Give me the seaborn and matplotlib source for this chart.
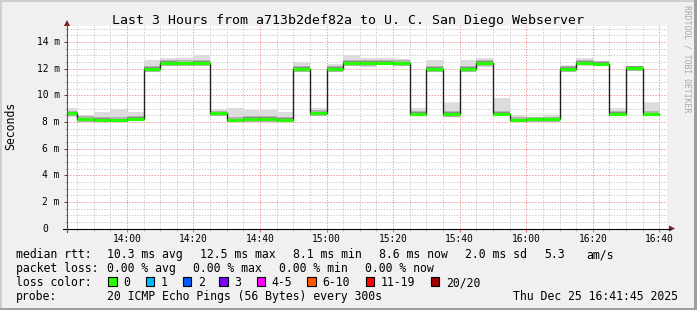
import matplotlib
matplotlib.use("Agg")
import matplotlib.pyplot as plt
import matplotlib.transforms as mtransforms
from matplotlib.patches import Rectangle, Polygon
from matplotlib.lines import Line2D
from matplotlib.ticker import MultipleLocator, FixedLocator
import numpy as np
import pandas as pd
import seaborn as sns

# ---------------- data ----------------
title = "Last 3 Hours from a713b2def82a to U. C. San Diego Webserver"
axis_start = "13:42"
axis_end = "16:42"
interval_end = ["13:45", "13:50", "13:55", "14:00", "14:05", "14:10", "14:15", "14:20",
                "14:25", "14:30", "14:35", "14:40", "14:45", "14:50", "14:55", "15:00",
                "15:05", "15:10", "15:15", "15:20", "15:25", "15:30", "15:35", "15:40",
                "15:45", "15:50", "15:55", "16:00", "16:05", "16:10", "16:15", "16:20",
                "16:25", "16:30", "16:35", "16:40"]
median_ms = [8.63, 8.20, 8.16, 8.12, 8.23, 11.98, 12.42, 12.40, 12.42, 8.63, 8.12, 8.22,
             8.24, 8.17, 11.97, 8.65, 11.97, 12.42, 12.42, 12.42, 12.40, 8.62, 11.97, 8.60,
             11.97, 12.42, 8.60, 8.12, 8.18, 8.18, 11.97, 12.45, 12.36, 8.62, 12.05, 8.58]
smoke_low_ms = [8.39, 8.01, 8.01, 8.01, 8.09, 11.76, 12.19, 12.20, 12.20, 8.44, 8.01, 8.01,
                8.01, 8.01, 11.76, 8.44, 11.76, 12.19, 12.14, 12.26, 12.19, 8.44, 11.76, 8.39,
                11.76, 12.14, 8.51, 8.01, 8.01, 8.01, 11.72, 12.20, 12.26, 8.46, 11.81, 8.44]
smoke_high_ms = [9.06, 8.51, 8.72, 8.94, 8.76, 12.64, 12.81, 12.81, 13.00, 8.94, 9.06, 8.89,
                 8.89, 8.72, 12.51, 9.01, 12.34, 13.00, 12.81, 12.81, 12.75, 9.01, 12.64, 9.39,
                 12.64, 12.81, 9.81, 8.51, 8.40, 8.51, 12.26, 12.81, 12.55, 9.01, 12.19, 9.39]
x_tick_labels = ["14:00", "14:20", "14:40", "15:00", "15:20", "15:40", "16:00", "16:20", "16:40"]
y_tick_values = [0, 2, 4, 6, 8, 10, 12, 14]
y_tick_labels = ["0", "2 m", "4 m", "6 m", "8 m", "10 m", "12 m", "14 m"]
y_label = "Seconds"

stats_rows = [
    [("median rtt:", 16), ("10.3 ms avg", 107.3), ("12.5 ms max", 200), ("8.1 ms min", 293.3),
     ("8.6 ms now", 379.3), ("2.0 ms sd", 465), ("5.3", 544), ("am/s", 586)],
    [("packet loss:", 16), ("0.00 % avg", 107.3), ("0.00 % max", 193.3), ("0.00 % min", 279.3),
     ("0.00 % now", 365)],
]
loss_title = "loss color:"
loss_labels = ["0", "1", "2", "3", "4-5", "6-10", "11-19", "20/20"]
loss_colors = ["#26ff00", "#00b8ff", "#0059ff", "#7e00ff", "#ff00ff", "#ff5500", "#ff0000", "#a10000"]
loss_box_x = [108.3, 145.7, 182.7, 219.3, 256.7, 307.3, 366.0, 430.7]
probe_row = [("probe:", 16), ("20 ICMP Echo Pings (56 Bytes) every 300s", 107.3),
             ("Thu Dec 25 16:41:45 2025", 513.3)]
watermark = "RRDTOOL / TOBI OETIKER"

# ---------------- helpers ----------------
W, H = 697, 310


def to_min(s):
    h, m = s.split(":")
    return (int(h) - 14) * 60 + int(m)


def fx(x):
    return x / W


def fy(y):
    return 1 - y / H


MONO = "DejaVu Sans Mono"
plt.rcParams["font.family"] = [MONO]

fig = plt.figure(figsize=(W / 100, H / 100), dpi=100)
fig.patch.set_facecolor("#f0f0f0")

# frame shades
fig.add_artist(Rectangle((0, fy(2)), 1, 2 / H, transform=fig.transFigure, color="#cfcfcf", lw=0))
fig.add_artist(Rectangle((0, 0), fx(2), 1, transform=fig.transFigure, color="#cfcfcf", lw=0))
fig.add_artist(Rectangle((fx(694), 0), 3 / W, 1, transform=fig.transFigure, color="#9e9e9e", lw=0))
fig.add_artist(Rectangle((0, 0), 1, 2.5 / H, transform=fig.transFigure, color="#9e9e9e", lw=0))

# axes: 67..667 px, y 25.9..228.5
ax_left, ax_right, ax_top, ax_bottom = 67, 667, 25.9, 228.5
ax = fig.add_axes([fx(ax_left), fy(ax_bottom), (ax_right - ax_left) / W, (ax_bottom - ax_top) / H])
ax.set_facecolor("white")

x_start = to_min(axis_start)
x_end = to_min(axis_end)
ends = np.array([to_min(t) for t in interval_end], dtype=float)
starts = np.concatenate([[x_start], ends[:-1]])
xs = np.concatenate([[x_start], ends])
med = np.array(median_ms)
lo = np.array(smoke_low_ms)
hi = np.array(smoke_high_ms)

ax.set_xlim(x_start, x_end + 0.3)
ax.set_ylim(0, 15.2)

# grid
ax.xaxis.set_major_locator(FixedLocator([to_min(t) for t in x_tick_labels]))
ax.xaxis.set_minor_locator(MultipleLocator(5))
ax.yaxis.set_major_locator(FixedLocator(y_tick_values))
ax.yaxis.set_minor_locator(MultipleLocator(0.5))
dot = (0, (1.4, 1.4))
ax.grid(True, which="minor", color="#cdcdcd", lw=0.72, ls=dot, zorder=0)
ax.grid(True, which="major", color="#f29a9a", lw=0.72, ls=dot, zorder=0.5)
ax.set_axisbelow(True)

# smoke
ys = lambda a: np.concatenate([[a[0]], a])
ax.fill_between(xs, ys(lo), ys(hi), step="pre", color="#dcdcdc", lw=0, zorder=2)
inner_lo = np.maximum(lo, med - 0.22)
inner_hi = np.minimum(hi, med + 0.22)
ax.fill_between(xs, ys(inner_lo), ys(inner_hi), step="pre", color="#b4b4b4", lw=0, zorder=2.1)
core_lo = np.maximum(lo, med - 0.1)
core_hi = np.minimum(hi, med + 0.12)
ax.fill_between(xs, ys(core_lo), ys(core_hi), step="pre", color="#8a8a8a", lw=0, zorder=2.2)

# median step line (black) via seaborn
df = pd.DataFrame({"t": xs, "median": ys(med)})
sns.lineplot(data=df, x="t", y="median", ax=ax, color="#202020", lw=1.0,
             drawstyle="steps-pre", estimator=None, sort=False, legend=False, zorder=3)
# loss colour (0 % loss -> green) on the median
ax.hlines(med, starts, ends, colors=loss_colors[0], lw=2.3, zorder=4)

# ticks
ax.set_xticks([to_min(t) for t in x_tick_labels])
ax.set_xticklabels(x_tick_labels)
ax.tick_params(axis="x", which="major", length=2.5, width=0.7, color="#e06060",
               pad=1.8, labelsize=6.9, labelcolor="#000000")
ax.tick_params(axis="x", which="minor", length=1.6, width=0.7, color="#b0b0b0")
ax.tick_params(axis="y", which="major", length=2.5, width=0.7, color="#404040", labelleft=False)
ax.tick_params(axis="y", which="minor", length=1.6, width=0.7, color="#b0b0b0")
ax.set_xlabel("")
ax.set_ylabel("")
for s in ax.spines.values():
    s.set_visible(False)

# y tick labels (monospace, digit column aligned)
cw = 6.9 * 100 / 72 * 0.602
tr = mtransforms.blended_transform_factory(fig.transFigure, ax.transData)
for v, lab in zip(y_tick_values, y_tick_labels):
    right = 59.5 if lab.endswith("m") else 59.5 - 2 * cw
    ax.text(fx(right), v, lab, transform=tr, ha="right", va="center", fontsize=6.9,
            family=MONO, color="#000000", clip_on=False)

# axis lines with arrows
fig.add_artist(Line2D([fx(63), fx(670)], [fy(ax_bottom), fy(ax_bottom)], transform=fig.transFigure,
                      color="#000000", lw=0.8))
fig.add_artist(Line2D([fx(ax_left), fx(ax_left)], [fy(232), fy(25)], transform=fig.transFigure,
                      color="#555555", lw=0.8))
fig.add_artist(Polygon([[fx(669), fy(ax_bottom - 3)], [fx(669), fy(ax_bottom + 3)], [fx(675), fy(ax_bottom)]],
                       closed=True, transform=fig.transFigure, color="#7f1d1d", lw=0))
fig.add_artist(Polygon([[fx(ax_left - 3), fy(26)], [fx(ax_left + 3), fy(26)], [fx(ax_left), fy(20)]],
                       closed=True, transform=fig.transFigure, color="#7f1d1d", lw=0))

# title and labels
fig.text(fx(347.8), fy(24), title, ha="center", va="baseline", fontsize=9.55, family=MONO, color="#000000")
fig.text(fx(11), fy(126), y_label, rotation=90, ha="center", va="center", fontsize=8.3, family=MONO)
fig.text(fx(687.3), fy(5), watermark, rotation=270, ha="center", va="top", fontsize=5.9,
         family=MONO, color="#a8a8a8")

# legend / stats area
LFS = 8.3
baselines = [258.3, 272.3, 286.3, 300.3]
for row, base in zip(stats_rows, baselines[:2]):
    for txt, x in row:
        fig.text(fx(x), fy(base), txt, ha="left", va="baseline", fontsize=LFS, family=MONO)
fig.text(fx(16), fy(baselines[2]), loss_title, ha="left", va="baseline", fontsize=LFS, family=MONO)
for lab, col, bx in zip(loss_labels, loss_colors, loss_box_x):
    fig.add_artist(Rectangle((fx(bx), fy(286.2)), 8.4 / W, 9.2 / H, transform=fig.transFigure,
                             facecolor=col, edgecolor="#000000", lw=0.8))
    fig.text(fx(bx + 15), fy(baselines[2]), lab, ha="left", va="baseline", fontsize=LFS, family=MONO)
for txt, x in probe_row:
    fig.text(fx(x), fy(baselines[3]), txt, ha="left", va="baseline", fontsize=LFS, family=MONO)

fig.savefig("out.png", dpi=100, facecolor=fig.get_facecolor())
